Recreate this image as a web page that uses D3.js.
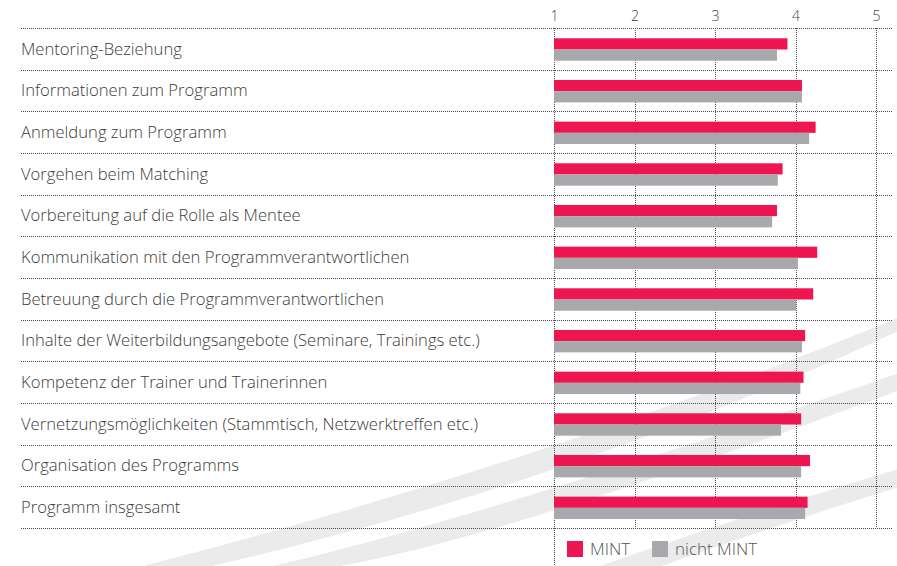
<!DOCTYPE html>
<html>
<head>
<meta charset="utf-8">
<script src="https://cdn.jsdelivr.net/npm/d3@7"></script>
<style>
  html, body { margin: 0; padding: 0; background: #fff; }
  svg { display: block; }
  text { font-family: "Open Sans", "Noto Sans", sans-serif; }
</style>
</head>
<body>
<div id="chart"></div>
<script>
// rating per item, scale 1 to 5
const categories = [
    'Mentoring-Beziehung',
    'Informationen zum Programm',
    'Anmeldung zum Programm',
    'Vorgehen beim Matching',
    'Vorbereitung auf die Rolle als Mentee',
    'Kommunikation mit den Programmverantwortlichen',
    'Betreuung durch die Programmverantwortlichen',
    'Inhalte der Weiterbildungsangebote (Seminare, Trainings etc.)',
    'Kompetenz der Trainer und Trainerinnen',
    'Vernetzungsmöglichkeiten (Stammtisch, Netzwerktreffen etc.)',
    'Organisation des Programms',
    'Programm insgesamt'
];
const mint      = [ 3.90, 4.08, 4.25, 3.84, 3.77, 4.27, 4.22, 4.12, 4.10, 4.07, 4.18, 4.15 ];
const nichtMint = [ 3.77, 4.08, 4.17, 3.78, 3.71, 4.03, 4.01, 4.08, 4.06, 3.82, 4.07, 4.12 ];
const seriesNames = [ 'MINT', 'nicht MINT' ];
const tickValues = [ 1, 2, 3, 4, 5 ];

const width = 897, height = 566;
const colors = [ '#ee1651', '#a8a9ac' ];
const gridColor = '#4a4a4a';

const data = categories.map( ( c, i ) => ( {
    name: c,
    values: [ { key: seriesNames[ 0 ], value: mint[ i ] }, { key: seriesNames[ 1 ], value: nichtMint[ i ] } ]
} ) );

const svg = d3.select( '#chart' ).append( 'svg' )
    .attr( 'width', width )
    .attr( 'height', height );

// decorative background swooshes
const swooshes = [
    'M143,566 Q548,462 905,315 L905,328 Q580,481 212,566 Z',
    'M273,566 Q490,516 905,371 L905,388 Q510,536 340,566 Z',
    'M600,566 Q760,510 905,467 L905,485 Q770,527 662,566 Z'
];
svg.append( 'g' )
    .selectAll( 'path' )
    .data( swooshes )
    .enter()
    .append( 'path' )
    .attr( 'd', d => d )
    .attr( 'fill', '#ebebec' );

const xScale = d3.scaleLinear()
    .domain( [ 1, 5 ] )
    .range( [ 554, 876 ] );

const yScale = d3.scaleBand()
    .domain( categories )
    .range( [ 28, 528 ] );

const ySubScale = d3.scaleBand()
    .domain( seriesNames )
    .range( [ 10.3, 32.7 ] );

const color = d3.scaleOrdinal()
    .domain( seriesNames )
    .range( colors );

// vertical grid lines
svg.append( 'g' )
    .selectAll( 'line' )
    .data( tickValues )
    .enter()
    .append( 'line' )
    .attr( 'x1', d => Math.round( xScale( d ) ) + 0.5 )
    .attr( 'x2', d => Math.round( xScale( d ) ) + 0.5 )
    .attr( 'y1', 28 )
    .attr( 'y2', d => d === tickValues[ 0 ] ? height : 528 )
    .attr( 'stroke', gridColor )
    .attr( 'stroke-width', 1 )
    .attr( 'stroke-dasharray', '1,1' );

// horizontal row separators
const sepY = categories.map( c => yScale( c ) ).concat( [ yScale.range()[ 1 ] ] );
svg.append( 'g' )
    .selectAll( 'line' )
    .data( sepY )
    .enter()
    .append( 'line' )
    .attr( 'x1', 21 )
    .attr( 'x2', 893 )
    .attr( 'y1', d => Math.round( d ) + 0.5 )
    .attr( 'y2', d => Math.round( d ) + 0.5 )
    .attr( 'stroke', gridColor )
    .attr( 'stroke-width', 1 )
    .attr( 'stroke-dasharray', '1,1' );

// top axis labels
const xAxis = d3.axisTop( xScale )
    .tickValues( tickValues )
    .tickFormat( d3.format( 'd' ) )
    .tickSize( 0 )
    .tickPadding( 0 );

const xG = svg.append( 'g' )
    .attr( 'transform', 'translate( 0, 21 )' )
    .call( xAxis );
xG.select( '.domain' ).remove();
xG.selectAll( 'text' )
    .attr( 'font-family', '"Open Sans", sans-serif' )
    .attr( 'font-size', 14 )
    .attr( 'font-weight', 300 )
    .attr( 'fill', '#444' )
    .attr( 'dy', 0 );

// bars
const rows = svg.append( 'g' )
    .selectAll( '.row' )
    .data( data )
    .enter()
    .append( 'g' )
    .attr( 'class', 'row' )
    .attr( 'transform', d => `translate( 0, ${ yScale( d.name ) } )` );

rows.selectAll( 'rect' )
    .data( d => d.values )
    .enter()
    .append( 'rect' )
    .attr( 'x', xScale( 1 ) )
    .attr( 'y', d => ySubScale( d.key ) )
    .attr( 'width', d => xScale( d.value ) - xScale( 1 ) )
    .attr( 'height', ySubScale.bandwidth() )
    .attr( 'fill', d => color( d.key ) );

// category labels
const labels = rows.append( 'text' )
    .attr( 'x', 21 )
    .attr( 'y', yScale.bandwidth() / 2 )
    .attr( 'dy', '0.35em' )
    .attr( 'font-size', 16 )
    .attr( 'font-weight', 300 )
    .attr( 'fill', '#3c3c3c' )
    .text( d => d.name );

// fit the longest label into the width it takes in the original
const longest = d3.max( labels.nodes(), n => n.getComputedTextLength() );
const labelSize = 16 * 459 / longest;
labels.attr( 'font-size', labelSize );

// legend
const legend = svg.append( 'g' )
    .selectAll( '.legend' )
    .data( seriesNames )
    .enter()
    .append( 'g' )
    .attr( 'class', 'legend' )
    .attr( 'transform', ( d, i ) => `translate( ${ 567 + i * 85 }, 541 )` );

legend.append( 'rect' )
    .attr( 'width', 16 )
    .attr( 'height', 16 )
    .attr( 'fill', d => color( d ) );

legend.append( 'text' )
    .attr( 'x', 23 )
    .attr( 'y', 8 )
    .attr( 'dy', '0.36em' )
    .attr( 'font-size', 17 )
    .attr( 'font-weight', 300 )
    .attr( 'fill', '#555' )
    .text( d => d );
</script>
</body>
</html>
